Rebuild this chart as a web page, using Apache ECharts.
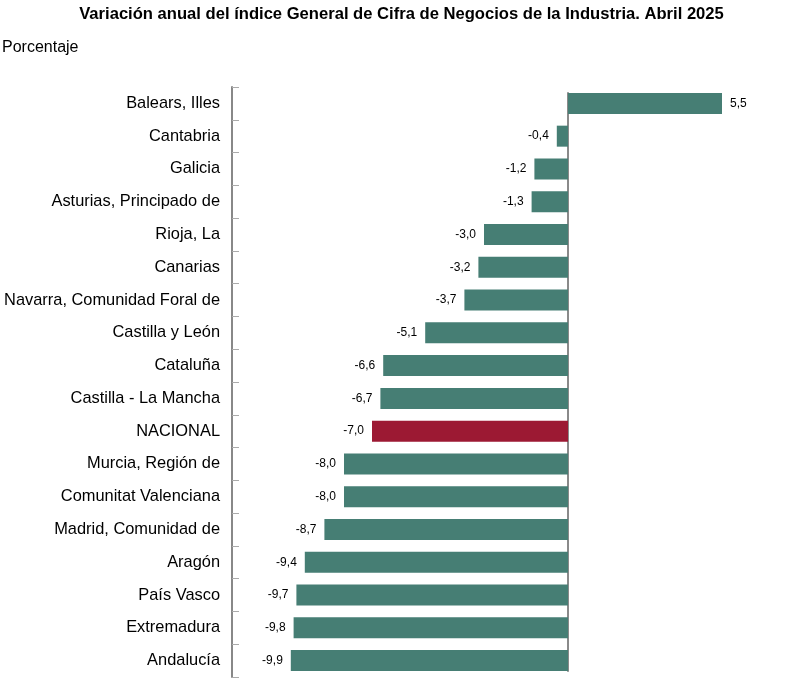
<!DOCTYPE html>
<html>
<head>
<meta charset="utf-8">
<script src="https://cdn.jsdelivr.net/npm/echarts@6/dist/echarts.min.js"></script>
<style>
	html, body { margin: 0; padding: 0; background: #fff; }
	#chart { width: 803px; height: 688px; }
</style>
</head>
<body>
<div id="chart"></div>
<script>
var categories = ['Balears, Illes', 'Cantabria', 'Galicia', 'Asturias, Principado de', 'Rioja, La',
	'Canarias', 'Navarra, Comunidad Foral de', 'Castilla y León', 'Cataluña', 'Castilla - La Mancha',
	'NACIONAL', 'Murcia, Región de', 'Comunitat Valenciana', 'Madrid, Comunidad de', 'Aragón',
	'País Vasco', 'Extremadura', 'Andalucía'];
var values = [5.5, -0.4, -1.2, -1.3, -3.0, -3.2, -3.7, -5.1, -6.6, -6.7, -7.0, -8.0, -8.0, -8.7, -9.4, -9.7, -9.8, -9.9];
var highlight = 'NACIONAL';

var font = 'Arial, "Liberation Sans", sans-serif';

var myChart = echarts.init(document.getElementById('chart'));

var seriesData = values.map(function (v, i) {
	return {
		value: v,
		itemStyle: { color: categories[i] === highlight ? '#9c1933' : '#467e74' },
		label: { position: v < 0 ? 'left' : 'right' }
	};
});

var option = {
	animation: false,
	title: {
		text: 'Variación anual del índice General de Cifra de Negocios de la Industria. Abril 2025',
		left: 'center',
		top: 1,
		textStyle: { fontFamily: font, fontSize: 16.6, fontWeight: 'bold', color: '#000' }
	},
	graphic: [{
		type: 'text',
		left: 2,
		top: 40,
		style: { text: 'Porcentaje', fontFamily: font, fontSize: 16, fill: '#000' }
	}],
	grid: [
		{ left: 232, right: 39, top: 87, bottom: 11, outerBoundsMode: 'none' },
		// zero line only spans from first bar top to last bar bottom
		{ left: 232, right: 39, top: 93, bottom: 17, outerBoundsMode: 'none' }
	],
	xAxis: [{
		type: 'value',
		min: -12,
		max: 7,
		axisLabel: { show: false },
		splitLine: { show: false },
		axisLine: { show: false },
		axisTick: { show: false }
	}, {
		type: 'value',
		gridIndex: 1,
		min: -12,
		max: 7,
		axisLabel: { show: false },
		splitLine: { show: false },
		axisLine: { show: false },
		axisTick: { show: false }
	}],
	yAxis: [{
		type: 'category',
		data: categories,
		inverse: true,
		axisLine: { show: true, onZero: false, lineStyle: { color: '#888', width: 2 } },
		axisTick: { show: true, inside: true, length: 7, lineStyle: { color: '#aaa', width: 1 } },
		axisLabel: { margin: 12, fontFamily: font, fontSize: 16.4, color: '#000' }
	}, {
		type: 'category',
		gridIndex: 1,
		data: categories,
		axisLine: { show: true, onZero: true, lineStyle: { color: '#8a8a8a', width: 2 } },
		axisTick: { show: false },
		axisLabel: { show: false }
	}],
	series: [{
		type: 'bar',
		data: seriesData,
		barWidth: 21,
		z: 1,
		label: {
			show: true,
			distance: 8,
			fontFamily: font,
			fontSize: 12,
			color: '#000',
			formatter: function (p) { return p.value.toFixed(1).replace('.', ','); }
		}
	}]
};

myChart.setOption(option);
</script>
</body>
</html>
